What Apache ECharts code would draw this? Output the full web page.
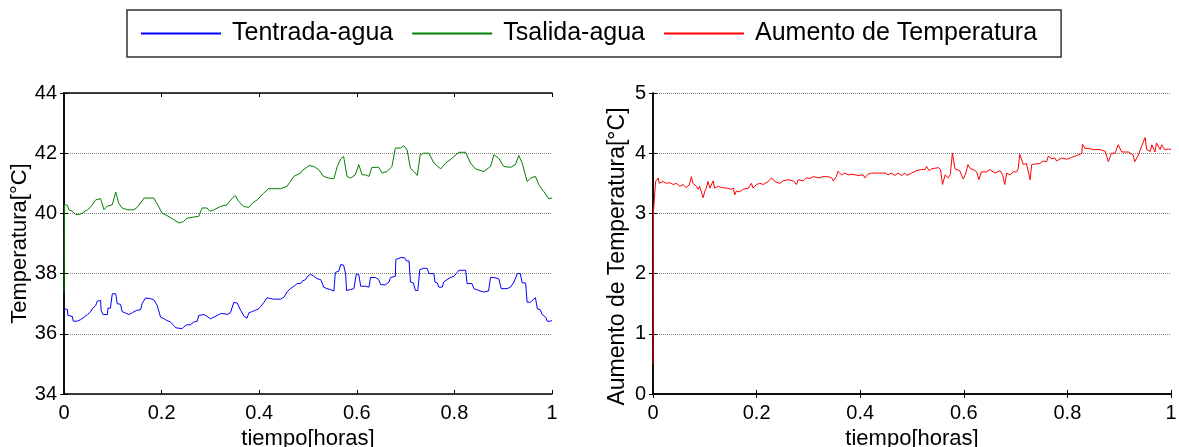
<!DOCTYPE html>
<html>
<head>
<meta charset="utf-8">
<script src="https://cdn.jsdelivr.net/npm/echarts@6/dist/echarts.min.js"></script>
<style>
  html, body { margin: 0; padding: 0; background: #fff; }
  #chart { width: 1179px; height: 447px; }
</style>
</head>
<body>
<div id="chart"></div>
<script>
// [tiempo (horas), valor]
const tEntrada = [
  [0, 36.83], [0.007, 36.81], [0.008, 36.61], [0.017, 36.58], [0.019, 36.42], [0.027, 36.42], [0.034, 36.47],
  [0.041, 36.55], [0.048, 36.64], [0.054, 36.72], [0.058, 36.83], [0.065, 36.94], [0.068, 37.08], [0.075, 37.11],
  [0.076, 36.78], [0.080, 36.64], [0.089, 36.64], [0.090, 36.85], [0.095, 36.85], [0.099, 37.33], [0.106, 37.33],
  [0.109, 37.0], [0.116, 36.98], [0.119, 36.74], [0.126, 36.69], [0.133, 36.64], [0.140, 36.7], [0.143, 36.72],
  [0.149, 36.78], [0.157, 36.8], [0.160, 37.0], [0.167, 37.19], [0.177, 37.17], [0.184, 37.13], [0.191, 36.94],
  [0.198, 36.55], [0.205, 36.5], [0.211, 36.44], [0.218, 36.39], [0.225, 36.28], [0.229, 36.2], [0.242, 36.17],
  [0.246, 36.24], [0.252, 36.3], [0.259, 36.3], [0.266, 36.39], [0.273, 36.42], [0.276, 36.61], [0.287, 36.64],
  [0.293, 36.58], [0.300, 36.5], [0.307, 36.55], [0.314, 36.61], [0.321, 36.67], [0.328, 36.67], [0.334, 36.64],
  [0.341, 36.7], [0.345, 36.74], [0.348, 37.04], [0.355, 37.02], [0.362, 36.78], [0.369, 36.58], [0.375, 36.52],
  [0.379, 36.7], [0.386, 36.74], [0.392, 36.78], [0.399, 36.83], [0.403, 36.91], [0.410, 37.05], [0.416, 37.2],
  [0.423, 37.17], [0.430, 37.15], [0.444, 37.15], [0.451, 37.22], [0.457, 37.39], [0.464, 37.5], [0.471, 37.58],
  [0.478, 37.67], [0.485, 37.67], [0.488, 37.75], [0.495, 37.8], [0.498, 37.89], [0.505, 37.98], [0.512, 37.91],
  [0.519, 37.83], [0.526, 37.8], [0.529, 37.69], [0.532, 37.55], [0.539, 37.5], [0.546, 37.47], [0.553, 37.42],
  [0.556, 38.04], [0.563, 38.08], [0.567, 38.3], [0.573, 38.28], [0.577, 38.0], [0.579, 37.44], [0.587, 37.47],
  [0.594, 37.5], [0.599, 37.99], [0.604, 37.97], [0.608, 37.58], [0.618, 37.58], [0.625, 37.55], [0.628, 37.87],
  [0.638, 37.87], [0.645, 37.8], [0.649, 37.63], [0.659, 37.63], [0.666, 37.72], [0.669, 37.87], [0.679, 37.91],
  [0.680, 38.47], [0.690, 38.53], [0.698, 38.53], [0.702, 38.42], [0.707, 38.42], [0.710, 37.72], [0.716, 37.69],
  [0.720, 37.44], [0.725, 37.44], [0.729, 38.13], [0.737, 38.18], [0.744, 38.17], [0.748, 38.0], [0.758, 38.0],
  [0.760, 37.72], [0.765, 37.69], [0.768, 37.55], [0.775, 37.55], [0.778, 37.72], [0.785, 37.8], [0.792, 37.87],
  [0.799, 37.91], [0.806, 38.04], [0.809, 38.11], [0.823, 38.11], [0.826, 37.67], [0.836, 37.67], [0.840, 37.5],
  [0.850, 37.44], [0.860, 37.39], [0.870, 37.42], [0.874, 37.87], [0.881, 37.87], [0.891, 37.83], [0.896, 37.5],
  [0.908, 37.5], [0.915, 37.55], [0.922, 37.72], [0.929, 38.0], [0.935, 38.0], [0.939, 37.69], [0.946, 37.69],
  [0.949, 37.05], [0.956, 37.05], [0.966, 37.2], [0.970, 36.83], [0.976, 36.8], [0.980, 36.64], [0.987, 36.55],
  [0.990, 36.42], [0.997, 36.42], [1.0, 36.44]
]

const tSalida = [
  [0, 37.35], [0.001, 40.29], [0.007, 40.27], [0.010, 40.12], [0.017, 40.07], [0.024, 39.96], [0.034, 39.98],
  [0.048, 40.12], [0.054, 40.2], [0.065, 40.45], [0.075, 40.49], [0.082, 40.12], [0.088, 40.23], [0.099, 40.29],
  [0.106, 40.71], [0.112, 40.34], [0.119, 40.18], [0.130, 40.12], [0.143, 40.12], [0.150, 40.2], [0.164, 40.51],
  [0.184, 40.51], [0.191, 40.31], [0.201, 40.01], [0.211, 39.93], [0.225, 39.79], [0.236, 39.68], [0.245, 39.73],
  [0.252, 39.84], [0.266, 39.88], [0.276, 39.9], [0.283, 40.18], [0.293, 40.18], [0.299, 40.07], [0.307, 40.12],
  [0.321, 40.23], [0.334, 40.29], [0.345, 40.51], [0.351, 40.59], [0.358, 40.4], [0.368, 40.23], [0.379, 40.2],
  [0.386, 40.34], [0.396, 40.45], [0.409, 40.67], [0.419, 40.82], [0.444, 40.82], [0.457, 40.9], [0.471, 41.23],
  [0.485, 41.34], [0.488, 41.42], [0.502, 41.59], [0.512, 41.56], [0.522, 41.45], [0.532, 41.23], [0.543, 41.17],
  [0.553, 41.15], [0.560, 41.56], [0.567, 41.81], [0.573, 41.89], [0.580, 41.23], [0.587, 41.17], [0.597, 41.28],
  [0.604, 41.62], [0.611, 41.28], [0.618, 41.28], [0.625, 41.23], [0.631, 41.53], [0.645, 41.53], [0.652, 41.34],
  [0.662, 41.39], [0.672, 41.56], [0.679, 42.17], [0.690, 42.17], [0.696, 42.25], [0.703, 42.11], [0.710, 41.5],
  [0.717, 41.39], [0.724, 41.26], [0.730, 41.95], [0.737, 42.0], [0.748, 42.0], [0.758, 41.67], [0.772, 41.48],
  [0.782, 41.67], [0.795, 41.83], [0.809, 42.03], [0.823, 42.03], [0.833, 41.67], [0.843, 41.48], [0.860, 41.39],
  [0.874, 41.56], [0.881, 41.95], [0.891, 41.83], [0.901, 41.56], [0.915, 41.53], [0.925, 41.62], [0.932, 41.92],
  [0.939, 41.67], [0.949, 41.06], [0.956, 41.17], [0.966, 41.23], [0.973, 40.95], [0.983, 40.73], [0.993, 40.49],
  [1.0, 40.51]
]

const aumento = [
  [0, 0.5], [0.001, 3.04], [0.005, 3.53], [0.010, 3.59], [0.012, 3.5], [0.019, 3.53], [0.026, 3.5], [0.032, 3.51],
  [0.039, 3.48], [0.045, 3.5], [0.052, 3.45], [0.058, 3.48], [0.064, 3.43], [0.070, 3.47], [0.074, 3.61],
  [0.077, 3.5], [0.084, 3.45], [0.087, 3.4], [0.090, 3.45], [0.093, 3.42], [0.097, 3.26], [0.100, 3.37],
  [0.103, 3.42], [0.106, 3.53], [0.110, 3.42], [0.116, 3.54], [0.119, 3.42], [0.126, 3.45], [0.132, 3.43],
  [0.142, 3.42], [0.151, 3.4], [0.155, 3.42], [0.158, 3.31], [0.161, 3.37], [0.167, 3.36], [0.174, 3.4],
  [0.184, 3.42], [0.190, 3.5], [0.193, 3.42], [0.200, 3.48], [0.206, 3.5], [0.213, 3.48], [0.222, 3.53],
  [0.229, 3.59], [0.235, 3.53], [0.245, 3.5], [0.251, 3.54], [0.261, 3.56], [0.271, 3.54], [0.277, 3.48],
  [0.280, 3.56], [0.290, 3.54], [0.296, 3.59], [0.303, 3.58], [0.309, 3.61], [0.322, 3.59], [0.328, 3.61],
  [0.338, 3.61], [0.345, 3.59], [0.348, 3.54], [0.354, 3.61], [0.357, 3.7], [0.364, 3.64], [0.370, 3.67],
  [0.377, 3.64], [0.386, 3.65], [0.396, 3.63], [0.406, 3.64], [0.409, 3.59], [0.415, 3.65], [0.422, 3.67],
  [0.431, 3.67], [0.448, 3.67], [0.454, 3.64], [0.460, 3.67], [0.467, 3.63], [0.473, 3.67], [0.480, 3.63],
  [0.486, 3.67], [0.490, 3.63], [0.499, 3.67], [0.509, 3.71], [0.518, 3.73], [0.525, 3.73], [0.528, 3.78],
  [0.533, 3.71], [0.538, 3.74], [0.544, 3.75], [0.551, 3.76], [0.555, 3.73], [0.559, 3.48], [0.564, 3.64],
  [0.570, 3.59], [0.574, 3.65], [0.578, 4.0], [0.583, 3.74], [0.592, 3.71], [0.599, 3.57], [0.604, 3.67],
  [0.608, 3.81], [0.613, 3.74], [0.618, 3.73], [0.625, 3.69], [0.629, 3.56], [0.634, 3.69], [0.644, 3.69],
  [0.650, 3.73], [0.660, 3.67], [0.670, 3.71], [0.675, 3.64], [0.679, 3.48], [0.683, 3.67], [0.689, 3.64],
  [0.696, 3.69], [0.702, 3.69], [0.705, 3.74], [0.708, 3.98], [0.715, 3.81], [0.721, 3.83], [0.728, 3.56],
  [0.731, 3.81], [0.737, 3.82], [0.747, 3.83], [0.753, 3.87], [0.760, 3.86], [0.763, 3.95], [0.770, 3.91],
  [0.776, 3.92], [0.779, 3.87], [0.789, 3.92], [0.799, 3.9], [0.808, 3.93], [0.818, 3.96], [0.828, 4.0],
  [0.829, 4.15], [0.834, 4.08], [0.840, 4.08], [0.850, 4.06], [0.863, 4.06], [0.873, 4.03], [0.879, 3.86],
  [0.885, 4.0], [0.892, 4.0], [0.898, 4.14], [0.905, 4.02], [0.918, 4.02], [0.927, 3.97], [0.930, 3.86],
  [0.937, 3.97], [0.943, 4.11], [0.950, 4.26], [0.953, 4.06], [0.960, 4.03], [0.963, 4.14], [0.969, 4.02],
  [0.972, 4.17], [0.979, 4.06], [0.982, 4.14], [0.988, 4.06], [0.995, 4.07], [1.0, 4.06]
]

const seriesNames = ['Tentrada-agua', 'Tsalida-agua', 'Aumento de Temperatura']
const seriesColors = ['#0000ff', '#008000', '#ff0000']

const font = 'Liberation Sans, Arial, sans-serif'
const chart = echarts.init(document.getElementById('chart'))

function xAx(gridIndex, top) {
  return {
    type: 'value', gridIndex: gridIndex, position: top ? 'top' : 'bottom',
    min: 0, max: 1, interval: 0.2,
    name: top ? '' : 'tiempo[horas]', nameLocation: 'middle', nameGap: 28,
    nameTextStyle: { color: '#000', fontSize: 22, fontFamily: font },
    axisLine: { show: true, lineStyle: { color: '#000', width: 1.5 } },
    axisTick: { show: true, inside: true, length: 4, lineStyle: { color: '#000' } },
    axisLabel: { show: !top, color: '#000', fontSize: 20, fontFamily: font, margin: 9 },
    splitLine: { show: false }
  }
}

function yAx(gridIndex, right, min, max, interval, name, gap, nameStyle) {
  return {
    type: 'value', gridIndex: gridIndex, position: right ? 'right' : 'left',
    min: min, max: max, interval: interval,
    name: right ? '' : name, nameLocation: 'middle', nameGap: gap,
    nameTextStyle: Object.assign({ color: '#000', fontSize: 22, fontFamily: font }, nameStyle || {}),
    axisLine: { show: true, lineStyle: { color: '#000', width: 1.5 } },
    axisTick: { show: true, inside: true, length: 4, lineStyle: { color: '#000' } },
    axisLabel: { show: !right, color: '#000', fontSize: 20, fontFamily: font, margin: 7 },
    splitLine: { show: !right, lineStyle: { color: '#808080', type: 'dotted', width: 1 } }
  }
}

const option = {
  animation: false,
  backgroundColor: '#fff',
  legend: {
    data: seriesNames,
    left: 127, top: 10,
    padding: [11, 24, 11, 14],
    icon: 'rect',
    itemWidth: 80, itemHeight: 2, itemGap: 19,
    borderColor: '#333', borderWidth: 1.5, backgroundColor: '#fff',
    textStyle: { color: '#000', fontSize: 25, fontFamily: font, padding: [0, 0, 0, 6] }
  },
  grid: [
    { left: 64, top: 93, width: 488, height: 301, outerBoundsMode: 'none' },
    { left: 653, top: 93, width: 518, height: 301, outerBoundsMode: 'none' }
  ],
  xAxis: [xAx(0, false), xAx(0, true), xAx(1, false), xAx(1, true)],
  yAxis: [
    yAx(0, false, 34, 44, 2, 'Temperatura[°C]', 33),
    yAx(0, true, 34, 44, 2, '', 0),
    yAx(1, false, 0, 5, 1, 'Aumento de Temperatura[°C]', 24, { fontSize: 23, padding: [0, 26, 0, 0] }),
    yAx(1, true, 0, 5, 1, '', 0)
  ],
  series: [
    { name: seriesNames[0], type: 'line', xAxisIndex: 0, yAxisIndex: 0, data: tEntrada,
      symbol: 'none', lineStyle: { color: seriesColors[0], width: 1 }, itemStyle: { color: seriesColors[0] } },
    { name: seriesNames[1], type: 'line', xAxisIndex: 0, yAxisIndex: 0, data: tSalida,
      symbol: 'none', lineStyle: { color: seriesColors[1], width: 1 }, itemStyle: { color: seriesColors[1] } },
    { name: seriesNames[2], type: 'line', xAxisIndex: 2, yAxisIndex: 2, data: aumento,
      symbol: 'none', lineStyle: { color: seriesColors[2], width: 1 }, itemStyle: { color: seriesColors[2] } }
  ]
}
chart.setOption(option)
</script>
</body>
</html>
